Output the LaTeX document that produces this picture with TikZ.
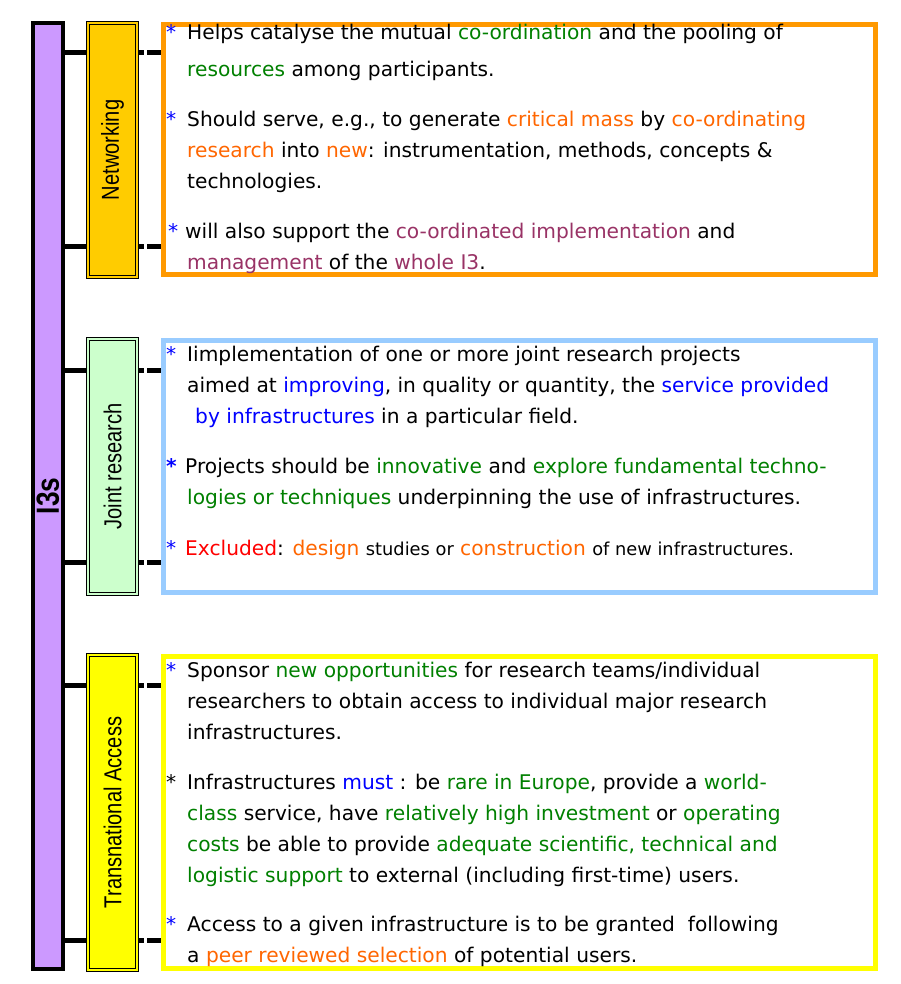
\documentclass[tikz,border=0pt]{standalone}
\usepackage{fontspec}
\setmainfont{DejaVu Sans}
\newfontfamily\labfont{Liberation Sans}
\definecolor{barfill}{HTML}{CC99FF}
\definecolor{netfill}{HTML}{FFCC00}
\definecolor{jrfill}{HTML}{CCFFCC}
\definecolor{tafill}{HTML}{FFFF00}
\definecolor{netborder}{HTML}{FF9900}
\definecolor{jrborder}{HTML}{99CCFF}
\definecolor{taborder}{HTML}{FFFF00}
\definecolor{tgreen}{HTML}{008000}
\definecolor{torange}{HTML}{FF6600}
\definecolor{tpurple}{HTML}{993366}
\definecolor{tblue}{HTML}{0000FF}
\definecolor{tred}{HTML}{FF0000}
\newcommand\cgr[1]{\textcolor{tgreen}{#1}}
\newcommand\cor[1]{\textcolor{torange}{#1}}
\newcommand\cpu[1]{\textcolor{tpurple}{#1}}
\newcommand\cbl[1]{\textcolor{tblue}{#1}}
\newcommand\cre[1]{\textcolor{tred}{#1}}
\newcommand\smtxt[1]{{\fontsize{17.8}{20}\selectfont #1}}
\newcommand\vlab[1]{\rotatebox{90}{\scalebox{0.82}[1]{#1}}}
\begin{document}
\begin{tikzpicture}[x=1pt,y=-1pt,
  barbox/.style={draw=black, line width=4pt, fill=barfill, inner sep=0pt},
  labbox/.style={draw=black, line width=0.8pt, double distance=2pt, inner sep=0pt,
     font=\labfont\fontsize{24.5}{28}\selectfont},
  tbox/.style={line width=5pt, fill=white, inner sep=0pt, minimum width=712pt},
  tie/.style={line width=5pt, draw=black},
  dtie/.style={line width=5pt, draw=black, dash pattern=on 5pt off 3pt on 30pt},
  txt/.style={anchor=base west, inner sep=0pt, font=\fontsize{20.2}{24}\selectfont},
  star/.style={anchor=base west, inner sep=0pt, font=\fontsize{20.2}{24}\selectfont, text=tblue}
]
\useasboundingbox (0,0) rectangle (901,984);

% main bar
\node[barbox, minimum width=30pt, minimum height=946pt] (bar) at (48,496)
  {\vlab{\labfont\bfseries\fontsize{32}{34}\selectfont I3s}};

% label boxes
\node[labbox, fill=netfill, double=netfill, minimum width=49.4pt, minimum height=254.4pt] (lab1) at (112.5,150)
  {\vlab{Networking}};
\node[labbox, fill=jrfill, double=jrfill, minimum width=49.4pt, minimum height=255.4pt] (lab2) at (112.5,466.5)
  {\vlab{Joint research}};
\node[labbox, fill=tafill, double=tafill, minimum width=49.4pt, minimum height=315.4pt] (lab3) at (112.5,812.5)
  {\vlab{Transnational Access}};

% text boxes
\node[tbox, draw=netborder, minimum height=250pt] (box1) at (519.5,149.5) {};
\node[tbox, draw=jrborder, minimum height=252pt] (box2) at (519.5,466.5) {};
\node[tbox, draw=taborder, minimum height=312pt] (box3) at (519.5,812.5) {};

% tie levels
\coordinate (t1) at (0,53);
\coordinate (t2) at (0,246);
\coordinate (t3) at (0,370);
\coordinate (t4) at (0,562);
\coordinate (t5) at (0,685);
\coordinate (t6) at (0,940);

\draw[tie] (bar.east |- t1) -- (lab1.west |- t1);
\draw[tie] (bar.east |- t2) -- (lab1.west |- t2);
\draw[tie] (bar.east |- t3) -- (lab2.west |- t3);
\draw[tie] (bar.east |- t4) -- (lab2.west |- t4);
\draw[tie] (bar.east |- t5) -- (lab3.west |- t5);
\draw[tie] (bar.east |- t6) -- (lab3.west |- t6);

\draw[dtie] ([xshift=1.8pt]lab1.east |- t1) -- (box1.west |- t1);
\draw[dtie] ([xshift=1.8pt]lab1.east |- t2) -- (box1.west |- t2);
\draw[dtie] ([xshift=1.8pt]lab2.east |- t3) -- (box2.west |- t3);
\draw[dtie] ([xshift=1.8pt]lab2.east |- t4) -- (box2.west |- t4);
\draw[dtie] ([xshift=1.8pt]lab3.east |- t5) -- (box3.west |- t5);
\draw[dtie] ([xshift=1.8pt]lab3.east |- t6) -- (box3.west |- t6);

% box 1 text
\node[star] (s11) at (166,40) {*};
\node[txt] (l11) at (187,40) {Helps catalyse the mutual \cgr{co-ordination} and the pooling of};
\node[txt] (l12) at (187,77) {\cgr{resources} among participants.};
\node[star] (s12) at (166,127) {*};
\node[txt] (l13) at (187,127) {Should serve, e.g., to generate \cor{critical mass} by \cor{co-ordinating}};
\node[txt] (l14) at (187,158) {\cor{research} into \cor{new}: instrumentation, methods, concepts \&};
\node[txt] (l15) at (187,189) {technologies.};
\node[star] (s13) at (168,238) {*};
\node[txt] (l16) at (185,238) {will also support the \cpu{co-ordinated implementation} and};
\node[txt] (l17) at (187,269) {\cpu{management} of the \cpu{whole I3}.};

% box 2 text
\node[star] (s21) at (166,361) {*};
\node[txt] (l21) at (187,361) {Iimplementation of one or more joint research projects};
\node[txt] (l22) at (187,392) {aimed at \cbl{improving}, in quality or quantity, the \cbl{service provided}};
\node[txt] (l23) at (195,423) {\cbl{by infrastructures} in a particular field.};
\node[star, font=\bfseries\fontsize{20.2}{24}\selectfont] (s22) at (166,473) {*};
\node[txt] (l24) at (185,473) {Projects should be \cgr{innovative} and \cgr{explore fundamental techno-}};
\node[txt] (l25) at (187,504) {\cgr{logies or techniques} underpinning the use of infrastructures.};
\node[star] (s23) at (166,555) {*};
\node[txt] (l26) at (185,555) {\cre{Excluded}: \cor{design} \smtxt{studies or} \cor{construction} \smtxt{of new infrastructures.}};

% box 3 text
\node[star] (s31) at (166,677) {*};
\node[txt] (l31) at (187,677) {Sponsor \cgr{new opportunities} for research teams/individual};
\node[txt] (l32) at (187,708) {researchers to obtain access to individual major research};
\node[txt] (l33) at (187,739) {infrastructures.};
\node[star, text=black] (s32) at (166,789) {*};
\node[txt] (l34) at (187,789) {Infrastructures \cbl{must} : be \cgr{rare in Europe}, provide a \cgr{world-}};
\node[txt] (l35) at (187,820) {\cgr{class} service, have \cgr{relatively high investment} or \cgr{operating}};
\node[txt] (l36) at (187,851) {\cgr{costs} be able to provide \cgr{adequate scientific, technical and}};
\node[txt] (l37) at (187,882) {\cgr{logistic support} to external (including first-time) users.};
\node[star] (s33) at (166,931) {*};
\node[txt] (l38) at (187,931) {Access to a given infrastructure is to be granted\ \ following};
\node[txt] (l39) at (187,962) {a \cor{peer reviewed selection} of potential users.};
\end{tikzpicture}
\end{document}
